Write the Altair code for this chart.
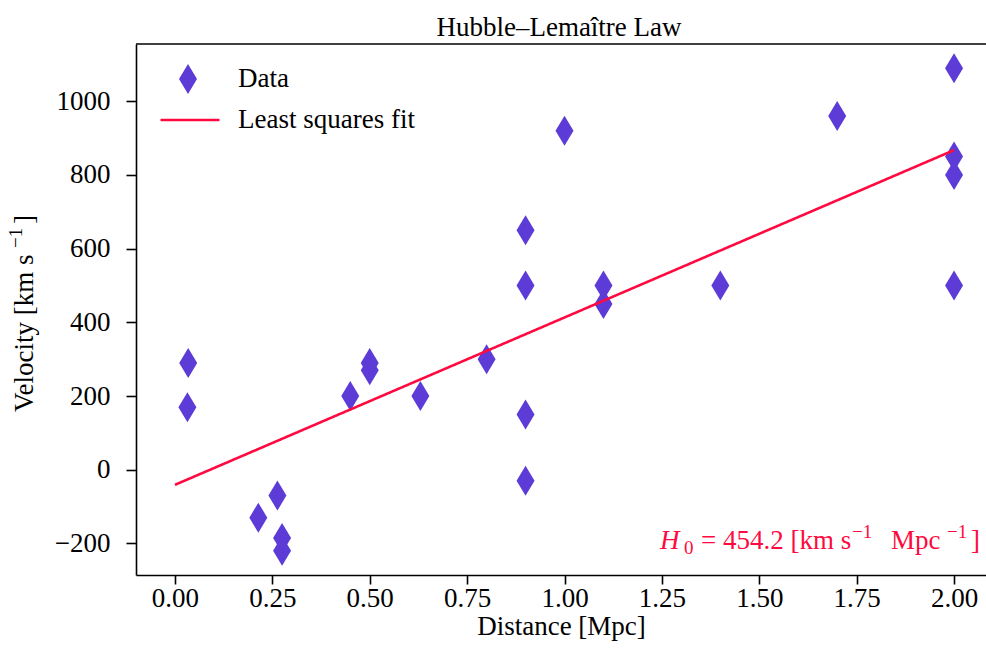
import altair as alt
import pandas as pd

# Hubble (1929) data
distance = [0.032, 0.034, 0.214, 0.263, 0.275, 0.275, 0.45, 0.5, 0.5, 0.63, 0.8, 0.9,
            0.9, 0.9, 0.9, 1.0, 1.1, 1.1, 1.4, 1.7, 2.0, 2.0, 2.0, 2.0]
velocity = [170, 290, -130, -70, -185, -220, 200, 290, 270, 200, 300, -30,
            650, 150, 500, 920, 450, 500, 500, 960, 500, 850, 800, 1090]

# least squares fit line end points
fit_x = [0.0, 2.0]
fit_y = [-40.8, 867.5]

x_ticks = [0.0, 0.25, 0.5, 0.75, 1.0, 1.25, 1.5, 1.75, 2.0]
y_ticks = [-200, 0, 200, 400, 600, 800, 1000]

title_text = "Hubble–Lemaître Law"
x_title = "Distance [Mpc]"
y_title_parts = ["Velocity [km s", "−1", "]"]
data_label = "Data"
fit_label = "Least squares fit"
h0_parts = ["H", "0", "= 454.2 [km s", "−1", "Mpc", "−1", "]"]

FONT = "Liberation Serif"
FS = 27
FS_SMALL = 19
PURPLE = "#5d3bd6"
RED = "#ff0a40"
DIAMOND = "M0,-1L0.6,0L0,1L-0.6,0Z"

pts = pd.DataFrame({"Distance": distance, "Velocity": velocity, "series": data_label})
fit = pd.DataFrame({"Distance": fit_x, "Velocity": fit_y, "fit": fit_label})

xscale = alt.Scale(domain=[-0.1, 2.082], nice=False, zero=False)
yscale = alt.Scale(domain=[-285.5, 1155.5], nice=False, zero=False)

xaxis = alt.Axis(title=x_title, values=x_ticks, format=".2f", grid=False,
                 tickSize=9, labelPadding=1, titleY=59, titleBaseline="alphabetic",
                 labelFlush=False)
yaxis = alt.Axis(title=None, values=y_ticks, format="d", grid=False,
                 tickSize=10, labelPadding=16, labelFlush=False)

points = alt.Chart(pts).mark_point(
    shape=DIAMOND, filled=True, size=900, opacity=1, strokeWidth=0
).encode(
    x=alt.X("Distance:Q", scale=xscale, axis=xaxis),
    y=alt.Y("Velocity:Q", scale=yscale, axis=yaxis),
    color=alt.Color(
        "series:N",
        scale=alt.Scale(domain=[data_label], range=[PURPLE]),
        legend=alt.Legend(title=None, orient="none", legendX=37, legendY=20,
                          symbolType=DIAMOND, symbolSize=900, symbolOpacity=1,
                          symbolStrokeWidth=0, labelOffset=35, labelFontSize=FS,
                          labelFont=FONT, labelColor="black", padding=0,
                          labelLimit=400),
    ),
)

line = alt.Chart(fit).mark_line(color=RED, strokeWidth=2.6).encode(
    x=alt.X("Distance:Q", scale=xscale),
    y=alt.Y("Velocity:Q", scale=yscale),
    strokeDash=alt.StrokeDash(
        "fit:N",
        scale=alt.Scale(domain=[fit_label], range=[[1, 0]]),
        legend=alt.Legend(title=None, orient="none", legendX=23, legendY=45,
                          symbolType="stroke", symbolSize=3481,
                          symbolStrokeColor=RED, symbolStrokeWidth=2.6,
                          labelOffset=17, labelFontSize=FS, labelFont=FONT,
                          labelColor="black", padding=0, labelLimit=400),
    ),
)


def piece(text, x, y, size, color, italic=False, angle=0, align="left"):
    kw = dict(font=FONT, fontSize=size, color=color, align=align,
              baseline="alphabetic")
    if italic:
        kw["fontStyle"] = "italic"
    if angle:
        kw["angle"] = angle
    return alt.Chart(pd.DataFrame({"t": [text]})).mark_text(**kw).encode(
        x=alt.value(x), y=alt.value(y), text="t:N")


# chart title above the axes
title_mark = piece(title_text, 423, -8, FS, "black", align="center")

# H0 annotation (bottom right, inside the axes), pieces for sub/superscripts
annot = [
    piece(h0_parts[0], 524, 505, FS, RED, italic=True),
    piece(h0_parts[1], 548, 510, FS_SMALL, RED),
    piece(h0_parts[2], 565, 505, FS, RED),
    piece(h0_parts[3], 716, 494, FS_SMALL, RED),
    piece(h0_parts[4], 755, 505, FS, RED),
    piece(h0_parts[5], 811, 494, FS_SMALL, RED),
    piece(h0_parts[6], 835, 505, FS, RED),
]

# rotated y-axis title with superscript
ytitle = [
    piece(y_title_parts[0], -103, 368, FS, "black", angle=270),
    piece(y_title_parts[1], -114, 204, FS_SMALL, "black", angle=270),
    piece(y_title_parts[2], -103, 180, FS, "black", angle=270),
]

top_spine = alt.Chart(pd.DataFrame({"a": [0]})).mark_rule(
    color="black", strokeWidth=1.6
).encode(x=alt.value(0), x2=alt.value(850), y=alt.value(0))

chart = alt.layer(points, line, *annot, *ytitle, title_mark, top_spine).resolve_legend(
    color="independent", strokeDash="independent"
).properties(
    width=850,
    height=531,
    autosize=alt.AutoSizeParams(type="none"),
    padding={"left": 136, "top": 44, "right": 0, "bottom": 73},
).configure_view(stroke=None).configure_axis(
    domainColor="black", domainWidth=1.6, tickColor="black", tickWidth=1.6,
    labelFont=FONT, labelFontSize=FS, labelColor="black",
    titleFont=FONT, titleFontSize=FS, titleFontWeight="normal", titleColor="black",
)

chart.save("out.html", embed_options={"renderer": "svg", "actions": False})
